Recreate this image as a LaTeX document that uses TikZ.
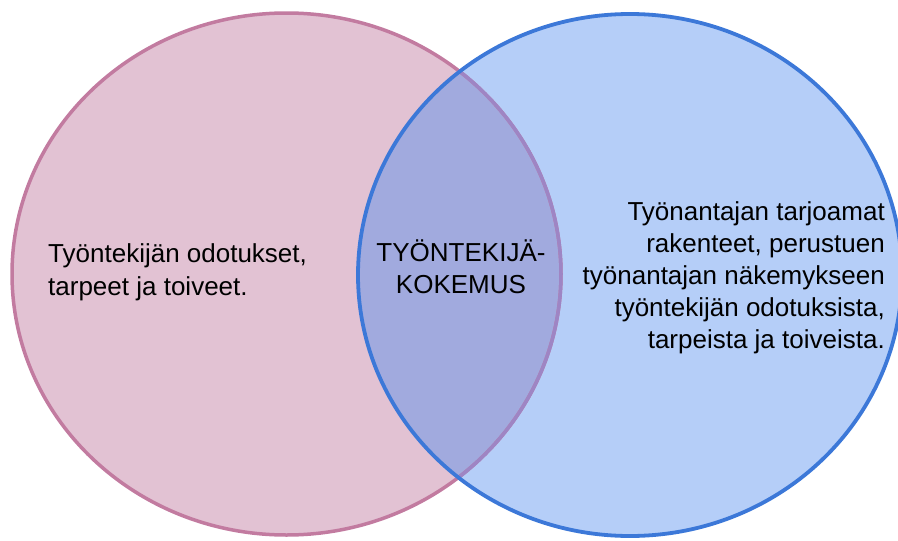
\documentclass[tikz,border=0pt]{standalone}
\usepackage{fontspec}
\setmainfont{Liberation Sans}
\definecolor{pinkfill}{RGB}{226,194,211}
\definecolor{pinkline}{RGB}{194,123,160}
\definecolor{bluefill}{RGB}{181,206,248}
\definecolor{blueline}{RGB}{60,120,216}
\definecolor{midfill}{RGB}{161,170,222}
\definecolor{midline}{RGB}{158,133,196}
\begin{document}
\begin{tikzpicture}[x=1pt,y=-1pt,
  lbl/.style={inner sep=0pt, font=\fontsize{26}{33}\selectfont, text=black}]
\useasboundingbox (0,0) rectangle (898,541);
\def\leftell{(286.5,274) ellipse [x radius=274.5pt, y radius=261pt]}
\def\rightell{(630,275) ellipse [x radius=272pt, y radius=261pt]}
% fills
\fill[pinkfill] \leftell;
\fill[bluefill] \rightell;
\begin{scope}
  \clip \leftell;
  \fill[midfill] \rightell;
\end{scope}
% outlines
\draw[pinkline, line width=3.5pt] \leftell;
\begin{scope}
  \clip \rightell;
  \draw[midline, line width=3.5pt] \leftell;
\end{scope}
\draw[blueline, line width=3.8pt] \rightell;
% texts
\node[lbl, anchor=base west] (left) at (48,262)
  {\begin{tabular}[t]{@{}l@{}}Työntekijän odotukset,\\tarpeet ja toiveet.\end{tabular}};
\node[lbl, anchor=base, font=\fontsize{26}{32}\selectfont] (mid) at (461,261)
  {\begin{tabular}[t]{@{}c@{}}TYÖNTEKIJÄ-\\KOKEMUS\end{tabular}};
\node[lbl, anchor=base east, font=\fontsize{26}{32}\selectfont] (right) at (885,220)
  {\begin{tabular}[t]{@{}r@{}}Työnantajan tarjoamat\\rakenteet, perustuen\\työnantajan näkemykseen\\työntekijän odotuksista,\\tarpeista ja toiveista.\end{tabular}};
\end{tikzpicture}
\end{document}
